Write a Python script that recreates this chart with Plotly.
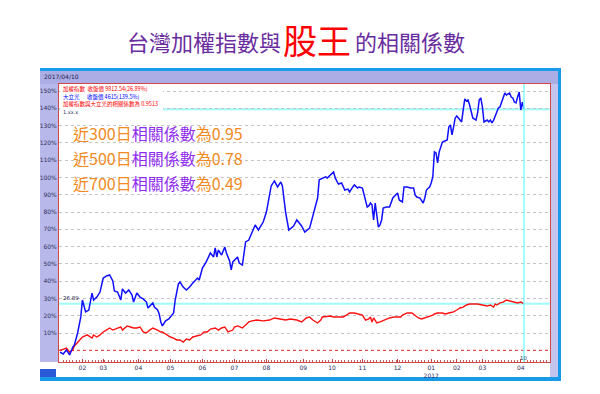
import plotly.graph_objects as go

W, H = 600, 394

# ---- data: trading-day index and % change since start ----
blue_day = [0, 2, 4, 6, 8, 9, 11, 13, 14, 15, 16, 18, 19, 20, 21, 23, 25, 27, 28, 29, 31, 33, 34, 36, 38, 39, 41, 43, 45, 46,
            48, 50, 52, 54, 55, 57, 58, 59, 61, 62, 63, 64, 66, 68, 69, 71, 72, 74, 75, 77, 79, 81, 83, 86, 87, 88, 89, 91, 92, 94,
            96, 97, 98, 99, 101, 103, 104, 106, 107, 108, 111, 112, 114, 115, 116, 118, 120, 122, 124, 127, 129, 131, 132, 134, 136, 138, 139, 141, 143, 146,
            148, 151, 153, 156, 158, 161, 162, 164, 166, 167, 169, 171, 172, 174, 176, 178, 180, 181, 183, 184, 186, 187, 189, 190, 191, 192, 193, 194, 195, 196,
            197, 198, 199, 200, 201, 202, 204, 206, 208, 211, 212, 214, 215, 217, 219, 221, 222, 223, 225, 227, 228, 229, 231, 232, 233, 234, 235, 236, 237, 238,
            239, 242, 243, 244, 245, 246, 247, 248, 250, 251, 252, 253, 254, 255, 256, 257, 258, 260, 261, 262, 263, 264, 265, 267, 268, 269, 270, 271, 273, 274,
            275, 276, 277, 278, 279, 281, 282, 283, 284, 285, 286, 287, 288, 289, 290]
blue_pct = [-1.0, -2.1, 0.2, -2.7, 1.9, 3.1, 10.0, 19.3, 29.1, 25.0, 22.2, 23.3, 29.1, 33.1, 29.1, 30.8, 33.7, 41.8, 42.4, 43.0, 43.6, 40.1, 34.3, 33.7, 29.1, 35.5, 33.1, 34.9, 32.0, 27.9,
            33.1, 30.8, 29.7, 27.9, 24.5, 26.8, 27.4, 25.0, 23.3, 21.0, 16.4, 14.1, 17.0, 18.1, 19.3, 21.6, 29.1, 38.4, 39.5, 36.6, 34.9, 36.6, 38.9, 41.8, 40.7, 43.6, 47.6, 50.5, 52.2, 56.3,
            54.0, 59.2, 54.0, 58.0, 55.1, 59.8, 56.3, 51.7, 46.5, 51.1, 54.0, 50.5, 49.3, 56.3, 62.7, 63.8, 68.4, 72.5, 69.6, 74.2, 80.0, 89.3, 95.1, 98.0, 94.5, 97.4, 95.1, 80.0, 69.6, 71.9,
            75.4, 71.9, 68.4, 70.7, 78.3, 88.1, 98.6, 99.7, 100.3, 99.7, 101.4, 103.2, 99.7, 96.2, 96.8, 92.7, 93.3, 91.6, 94.5, 95.7, 93.9, 94.5, 93.9, 89.8, 85.8, 82.9, 83.5, 85.2, 84.1, 75.4,
            85.2, 79.4, 71.3, 72.5, 75.4, 82.3, 82.9, 82.9, 88.1, 91.0, 87.0, 85.8, 94.5, 94.5, 93.9, 93.9, 89.8, 88.7, 88.1, 85.2, 88.1, 92.7, 94.5, 96.8, 100.3, 114.8, 114.2, 108.4, 114.8, 117.6,
            120.5, 121.7, 129.2, 130.4, 124.6, 129.2, 134.4, 135.6, 133.2, 132.1, 139.0, 145.4, 144.2, 144.8, 141.9, 137.3, 134.4, 133.2, 137.3, 144.8, 146.0, 140.8, 132.1, 133.2, 132.1, 133.2, 131.5, 133.2, 137.3, 140.2,
            140.8, 143.1, 146.0, 148.8, 147.7, 148.8, 146.5, 146.0, 143.6, 143.1, 146.5, 149.4, 139.0, 143.6, 139.5]

red_day = [0, 2, 4, 6, 8, 9, 11, 13, 14, 17, 19, 20, 21, 23, 25, 27, 29, 31, 33, 36, 38, 39, 41, 42, 44, 46, 48, 50, 52, 54,
           56, 58, 61, 63, 64, 67, 69, 71, 73, 75, 77, 79, 81, 83, 86, 88, 90, 92, 94, 97, 99, 101, 103, 105, 108, 109, 111, 114, 116, 118,
           120, 123, 127, 131, 134, 138, 141, 144, 148, 151, 154, 156, 158, 161, 163, 164, 169, 171, 175, 177, 179, 181, 184, 186, 189, 191, 193, 194, 195, 196,
           198, 200, 203, 206, 209, 213, 214, 217, 220, 222, 224, 226, 228, 230, 233, 234, 236, 239, 241, 243, 246, 248, 250, 252, 254, 256, 258, 261, 264, 267,
           269, 271, 272, 273, 275, 277, 279, 281, 283, 286, 288, 290]
red_pct = [0.0, 0.8, 1.3, -1.0, 0.2, 2.5, 4.8, 7.1, 7.7, 8.9, 7.7, 7.1, 8.9, 7.7, 8.9, 10.6, 11.7, 12.9, 11.7, 12.9, 13.5, 11.7, 13.5, 14.1, 13.5, 12.9, 12.9, 13.5, 10.6, 10.0,
           11.7, 12.9, 11.7, 10.6, 10.6, 8.9, 7.7, 7.1, 6.0, 6.0, 4.8, 6.5, 6.0, 7.7, 8.3, 8.9, 10.6, 10.6, 12.3, 12.9, 11.7, 12.9, 13.5, 10.6, 11.7, 13.5, 14.1, 12.9, 14.6, 16.4,
           17.0, 17.5, 17.0, 17.5, 18.7, 18.1, 17.5, 18.1, 17.5, 16.4, 18.7, 19.3, 17.5, 15.8, 17.5, 19.3, 19.8, 19.3, 19.3, 19.3, 20.4, 21.6, 21.6, 21.0, 20.4, 17.5, 18.1, 19.3, 16.4, 18.7,
           15.8, 16.4, 17.5, 18.7, 19.3, 19.3, 20.4, 21.6, 21.6, 20.4, 18.7, 18.1, 18.7, 19.3, 20.4, 21.0, 21.6, 21.6, 21.0, 21.6, 22.2, 23.3, 24.5, 25.0, 26.2, 26.8, 26.8, 26.8, 26.2, 25.6,
           26.2, 25.0, 26.8, 26.2, 27.4, 27.9, 29.1, 28.5, 27.9, 27.4, 27.9, 26.89]

month_tick_day = [14, 27, 49, 69, 89, 109, 129, 152, 170, 189, 211, 232, 248, 264, 288]
month_tick_text = ["02", "03", "04", "05", "06", "07", "08", "09", "10", "11", "12", "01<br>2017", "02", "03", "04"]
grid_pct = [10, 20, 30, 40, 50, 60, 70, 80, 90, 100, 110, 120, 130, 140, 150]
grid_text = ["10%", "20%", "30%", "40%", "50%", "60%", "70%", "80%", "90%", "100%", "110%", "120%", "130%", "140%", "150%"]

legend_lines = ["加權指數  收盤價 9812.54(26.89%)", "大立光      收盤價 4615(139.5%)", "加權指數與大立光的相關係數為 0.9513"]
notes = [("近300日", "相關係數", "為0.95"), ("近500日", "相關係數", "為0.78"), ("近700日", "相關係數", "為0.49")]
cursor_date = "2017/04/10"
cursor_day_label = "10"

# ---- helpers ----
def px(x):
    return x / W

def py(y):
    return 1 - y / H

FL, FR = 40, 561             # frame left / right
PL, PR, PT, PB = 59, 550, 84, 362
X0 = (PL - 60) / 1.6
X1 = (PR - 60) / 1.6
Y0, Y1 = -6.77, 154.06

CJK = "Noto Sans CJK TC"

fig = go.Figure()
fig.add_trace(go.Scatter(x=red_day, y=red_pct, mode="lines", line=dict(color="#ff1010", width=1.4),
                         showlegend=False, hoverinfo="skip"))
fig.add_trace(go.Scatter(x=blue_day, y=blue_pct, mode="lines", line=dict(color="#1010ff", width=1.5),
                         showlegend=False, hoverinfo="skip"))

shapes = []
def rect(x0, y0, x1, y1, color, layer="below"):
    shapes.append(dict(type="rect", xref="paper", yref="paper", x0=px(x0), x1=px(x1), y0=py(y1), y1=py(y0),
                       fillcolor=color, line=dict(width=0), layer=layer))

# frame
rect(FL, 68, FR, 381, "#ffffff")
rect(FL, 71, FR - 3, 84, "#adade6")          # header
rect(FL, 84, PL, 362, "#b8b8ea")             # left strip
rect(PR, 84, FR - 3, 377, "#c4c4ee")         # right strip
rect(FL, 68, FR, 71, "#1a9be8")              # top bar
rect(FR - 3, 68, FR, 381, "#1a9be8")         # right bar
rect(FL, 377, FR, 381, "#1a9be8")            # bottom bar
rect(FL, 369, FL + 16, 377, "#2a5ad8")       # small tab

# zero (base) line
shapes.append(dict(type="line", xref="x", yref="y", x0=X0, x1=X1, y0=0, y1=0,
                   line=dict(color="#e02020", width=1, dash="dot"), layer="below"))
# cursor lines
shapes.append(dict(type="line", xref="x", yref="y domain", x0=blue_day[-1], x1=blue_day[-1], y0=0, y1=1,
                   line=dict(color="#7fffff", width=1.5), layer="above"))
shapes.append(dict(type="line", xref="x domain", yref="y", x0=0, x1=1, y0=blue_pct[-1], y1=blue_pct[-1],
                   line=dict(color="#9ffcfc", width=2), layer="below"))
shapes.append(dict(type="line", xref="x domain", yref="y", x0=0, x1=1, y0=red_pct[-1], y1=red_pct[-1],
                   line=dict(color="#9ffcfc", width=2), layer="below"))
# legend box
shapes.append(dict(type="rect", xref="paper", yref="paper", x0=px(PL + 1), x1=px(163), y0=py(115), y1=py(PT + 1),
                   fillcolor="#ffffff", line=dict(width=0), layer="above"))

ann = []
# title
ann.append(dict(text="台灣加權指數與", x=px(125), y=py(41), xanchor="left", yanchor="middle",
                font=dict(family=CJK, size=22, color="#6a2d9f")))
ann.append(dict(text="股王", x=px(281), y=py(39), xanchor="left", yanchor="middle",
                font=dict(family=CJK, size=34, color="#ff0000")))
ann.append(dict(text="的相關係數", x=px(353), y=py(41), xanchor="left", yanchor="middle",
                font=dict(family=CJK, size=22, color="#6a2d9f")))
# header date
ann.append(dict(text=cursor_date, x=px(FL + 2), y=py(76.5), xanchor="left", yanchor="middle",
                font=dict(family="DejaVu Sans", size=6, color="#202050")))
# legend lines
leg_colors = ["#ff0000", "#0000ff", "#ff0000"]
for i, (t, c) in enumerate(zip(legend_lines, leg_colors)):
    ann.append(dict(text=t, x=px(62), y=py(88.5 + 8 * i), xanchor="left", yanchor="middle",
                    font=dict(family=CJK, size=5.5, color=c), borderpad=0))
ann.append(dict(text="1.xx.x", x=px(62), y=py(112), xanchor="left", yanchor="middle",
                font=dict(family="DejaVu Sans", size=5, color="#303060"), borderpad=0))
# overlay notes
for i, (a, b, c) in enumerate(notes):
    txt = (f"<span style='color:#f28a22'>{a}</span>"
           f"<span style='color:#8f2bf0'>{b}</span>"
           f"<span style='color:#f28a22'>{c}</span>")
    ann.append(dict(text=txt, x=px(71), y=py(133 + 25 * i), xanchor="left", yanchor="middle",
                    font=dict(family=CJK, size=16, color="#f28a22")))
# value label on red cursor line
ann.append(dict(text=f"{red_pct[-1]:.2f}", x=px(61), y=py(298), xanchor="left", yanchor="middle",
                font=dict(family="DejaVu Sans", size=5.5, color="#202040")))
ann.append(dict(text=cursor_day_label, x=px(523), y=py(358), xanchor="center", yanchor="middle",
                font=dict(family="DejaVu Sans", size=5.5, color="#404060")))
for a in ann:
    a.update(xref="paper", yref="paper", showarrow=False)

fig.update_layout(
    width=W, height=H, margin=dict(l=0, r=0, t=0, b=0),
    paper_bgcolor="#ffffff", plot_bgcolor="#ffffff",
    shapes=shapes, annotations=ann, showlegend=False,
    xaxis=dict(domain=[px(PL), px(PR)], range=[X0, X1], tickmode="array", tickvals=month_tick_day,
               ticktext=month_tick_text, tickfont=dict(family="DejaVu Sans", size=6, color="#303060"),
               showgrid=False, zeroline=False, showline=True, linecolor="#d04848", linewidth=1, mirror=True,
               ticks="inside", ticklen=3, tickcolor="#c04040", automargin=False,
               minor=dict(ticks="inside", ticklen=2, tick0=0, dtick=2, tickcolor="#c06060")),
    yaxis=dict(domain=[py(PB), py(PT)], range=[Y0, Y1], tickmode="array", tickvals=grid_pct, ticktext=grid_text,
               tickfont=dict(family="DejaVu Sans", size=6, color="#303060"), automargin=False,
               showgrid=True, gridcolor="#c4c4c4", griddash="dot", gridwidth=1, zeroline=False,
               showline=True, linecolor="#d04848", linewidth=1, mirror=True, ticks=""),
)

fig.write_html("out.html", config={"displayModeBar": False},
               post_script="document.body.style.margin='0';document.body.style.overflow='hidden';")
